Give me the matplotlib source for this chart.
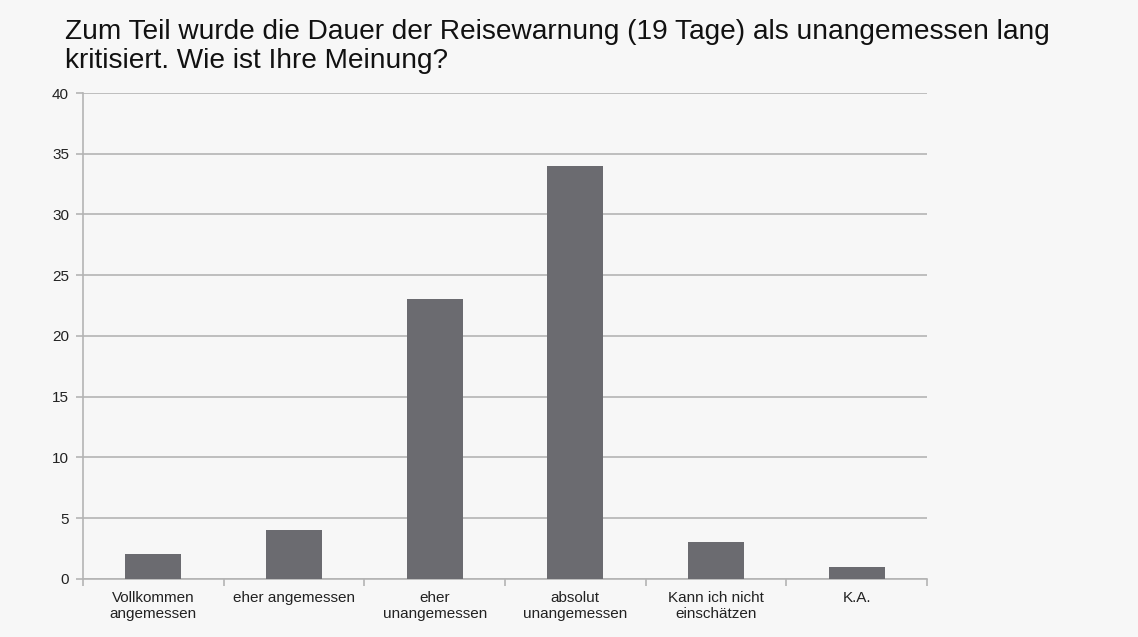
import numpy as np
import matplotlib.pyplot as plt

# survey answers and counts
categories = ['Vollkommen\nangemessen', 'eher angemessen', 'eher\nunangemessen',
              'absolut\nunangemessen', 'Kann ich nicht\neinschätzen', 'K.A.']
counts = [2, 4, 23, 34, 3, 1]
yticks = [0, 5, 10, 15, 20, 25, 30, 35, 40]

title = ('Zum Teil wurde die Dauer der Reisewarnung (19 Tage) als unangemessen lang\n'
         'kritisiert. Wie ist Ihre Meinung?')

plt.rcParams['font.family'] = ['Liberation Sans', 'DejaVu Sans']

bg = '#f7f7f7'
grid_c = '#b4b4b4'
fig = plt.figure(figsize=(11.38, 6.37), dpi=100, facecolor=bg)
ax = fig.add_axes([0.0729, 0.0915, 0.7417, 0.7625])
ax.set_facecolor(bg)

x = np.arange(len(categories))
ax.bar(x, counts, width=0.4, color='#6b6b70', zorder=3)

ax.set_xlim(-0.5, len(categories) - 0.5)
ax.set_ylim(0, 40)
ax.set_yticks(yticks)
ax.tick_params(axis='y', labelsize=11, labelcolor='#222222', length=5,
               color=grid_c, width=1.2, pad=5)
ax.yaxis.grid(True, color=grid_c, linewidth=1.2, zorder=0)

# category labels centred, ticks on category boundaries
ax.set_xticks(x)
ax.set_xticklabels(categories, fontsize=11, color='#222222', linespacing=1.2)
ax.tick_params(axis='x', length=0, pad=9)
ax.set_xticks(np.arange(len(categories) + 1) - 0.5, minor=True)
ax.tick_params(axis='x', which='minor', length=5, color=grid_c, width=1.2)

for s in ['top', 'right']:
    ax.spines[s].set_visible(False)
for s in ['left', 'bottom']:
    ax.spines[s].set_color(grid_c)
    ax.spines[s].set_linewidth(1.2)

fig.text(0.057, 0.97, title, fontsize=20.2, va='top', ha='left', color='#111111',
         linespacing=1.15)

fig.savefig('out.png', dpi=100, facecolor=bg)
